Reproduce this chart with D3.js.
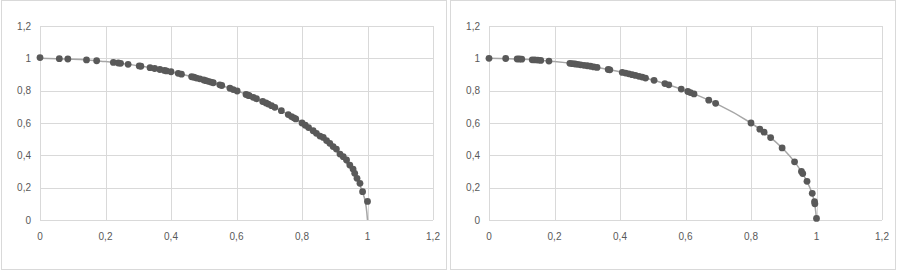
<!DOCTYPE html>
<html>
<head>
<meta charset="utf-8">
<script src="https://cdn.jsdelivr.net/npm/d3@7"></script>
<style>
  body { margin: 0; background: #fff; }
  svg { display: block; }
</style>
</head>
<body>
<div id="chart"></div>
<script>

// Tick values and their labels (comma decimals, as in the original)
const tickValues = [ 0, 0.2, 0.4, 0.6, 0.8, 1, 1.2 ];
const tickLabels = [ '0', '0,2', '0,4', '0,6', '0,8', '1', '1,2' ];

// Reference curve
const curveX = [ 0, 0.1, 0.2, 0.3, 0.4, 0.5, 0.6, 0.7, 0.8, 0.85, 0.9, 0.94, 0.97, 0.99, 1 ];
const curveY = [ 1, 0.995, 0.98, 0.954, 0.917, 0.866, 0.8, 0.714, 0.6, 0.527, 0.436, 0.341, 0.243, 0.141, 0 ];

// Left chart points
const leftX = [ 0, 0.059, 0.085, 0.142, 0.173, 0.224, 0.239, 0.246, 0.269, 0.303, 0.308, 0.336, 0.35, 0.366, 0.38, 0.386,
  0.40, 0.422, 0.432, 0.463, 0.47, 0.478, 0.488, 0.5, 0.507, 0.514, 0.522, 0.529, 0.549, 0.555, 0.58, 0.59, 0.602,
  0.629, 0.635, 0.639, 0.651, 0.661, 0.68, 0.69, 0.697, 0.707, 0.717, 0.737, 0.758, 0.768, 0.775, 0.781,
  0.8, 0.81, 0.82, 0.834, 0.844, 0.855, 0.865, 0.875, 0.885, 0.895, 0.905, 0.916, 0.926, 0.936, 0.946,
  0.956, 0.961, 0.968, 0.977, 0.985, 1.0 ];
const leftY = [ 1.005, 0.998, 0.996, 0.99, 0.985, 0.975, 0.971, 0.969, 0.963, 0.953, 0.951, 0.942, 0.937, 0.931, 0.925, 0.922,
  0.917, 0.907, 0.902, 0.886, 0.883, 0.878, 0.873, 0.866, 0.862, 0.858, 0.853, 0.849, 0.836, 0.832, 0.815, 0.807, 0.798,
  0.777, 0.772, 0.769, 0.759, 0.75, 0.733, 0.724, 0.717, 0.707, 0.697, 0.676, 0.652, 0.64, 0.632, 0.625,
  0.6, 0.586, 0.572, 0.552, 0.536, 0.519, 0.511, 0.491, 0.474, 0.454, 0.439, 0.408, 0.392, 0.371, 0.34,
  0.315, 0.289, 0.258, 0.227, 0.175, 0.115 ];

// Right chart points
const rightX = [ 0, 0.051, 0.086, 0.093, 0.1, 0.132, 0.14, 0.149, 0.158, 0.183, 0.247, 0.255, 0.263, 0.271, 0.28, 0.29,
  0.3, 0.31, 0.32, 0.33, 0.364, 0.369, 0.407, 0.417, 0.427, 0.437, 0.447, 0.458, 0.468, 0.478, 0.504, 0.537,
  0.549, 0.587, 0.607, 0.615, 0.626, 0.671, 0.692, 0.8, 0.827, 0.84, 0.86, 0.895, 0.933, 0.954, 0.958, 0.971,
  0.987, 0.994, 0.995, 1.0 ];
const rightY = [ 1, 0.999, 0.996, 0.996, 0.995, 0.991, 0.99, 0.989, 0.987, 0.983, 0.969, 0.967, 0.965, 0.963, 0.96, 0.957,
  0.954, 0.951, 0.947, 0.944, 0.931, 0.929, 0.913, 0.909, 0.904, 0.899, 0.894, 0.889, 0.884, 0.878, 0.864, 0.844,
  0.836, 0.81, 0.795, 0.788, 0.78, 0.741, 0.722, 0.6, 0.562, 0.543, 0.51, 0.446, 0.36, 0.3, 0.287, 0.239,
  0.165, 0.113, 0.1, 0.01 ];

const figure_width = 898;
const figure_height = 272;
const panel_width = 448;
const gridColor = '#d9d9d9';
const labelStyle = 'font-size:10px; font-family:"Liberation Sans", Arial, sans-serif; fill:#595959;';

const svg = d3.select( 'div#chart' )
  .append( 'svg' )
    .attr( 'width', figure_width )
    .attr( 'height', figure_height );

// Same scales for both panels (panel local coordinates)
const x = d3.scaleLinear().domain( [ 0, 1.2 ] ).range( [ 40, 433 ] );
const y = d3.scaleLinear().domain( [ 0, 1.2 ] ).range( [ 220, 26 ] );

function drawPanel( offset, px, py ) {
  const g = svg.append( 'g' )
    .attr( 'transform', 'translate(' + offset + ',0)' );

  // panel frame
  g.append( 'rect' )
    .attr( 'x', 1.5 )
    .attr( 'y', 0.5 )
    .attr( 'width', panel_width - 3 )
    .attr( 'height', figure_height - 3 )
    .attr( 'fill', '#fff' )
    .attr( 'stroke', gridColor );

  // gridlines
  g.append( 'g' ).selectAll( 'line' )
    .data( tickValues )
    .enter().append( 'line' )
      .attr( 'x1', x( 0 ) ).attr( 'x2', x( 1.2 ) )
      .attr( 'y1', function( d ) { return Math.round( y( d ) ) + 0.5; } )
      .attr( 'y2', function( d ) { return Math.round( y( d ) ) + 0.5; } )
      .attr( 'stroke', gridColor );
  g.append( 'g' ).selectAll( 'line' )
    .data( tickValues )
    .enter().append( 'line' )
      .attr( 'y1', y( 0 ) ).attr( 'y2', y( 1.2 ) )
      .attr( 'x1', function( d ) { return Math.round( x( d ) ) + 0.5; } )
      .attr( 'x2', function( d ) { return Math.round( x( d ) ) + 0.5; } )
      .attr( 'stroke', gridColor );

  // tick labels
  g.append( 'g' ).selectAll( 'text' )
    .data( tickValues )
    .enter().append( 'text' )
      .attr( 'x', 31 )
      .attr( 'y', function( d ) { return y( d ) + 3.5; } )
      .attr( 'text-anchor', 'end' )
      .attr( 'style', labelStyle )
      .text( function( d, i ) { return tickLabels[ i ]; } );
  g.append( 'g' ).selectAll( 'text' )
    .data( tickValues )
    .enter().append( 'text' )
      .attr( 'x', function( d ) { return x( d ); } )
      .attr( 'y', 240 )
      .attr( 'text-anchor', 'middle' )
      .attr( 'style', labelStyle )
      .text( function( d, i ) { return tickLabels[ i ]; } );

  // grey reference curve
  const line = d3.line()
    .x( function( d, i ) { return x( curveX[ i ] ); } )
    .y( function( d, i ) { return y( curveY[ i ] ); } )
    .curve( d3.curveMonotoneY );
  g.append( 'path' )
    .datum( curveX )
    .attr( 'd', line )
    .attr( 'fill', 'none' )
    .attr( 'stroke', '#a6a6a6' )
    .attr( 'stroke-width', 1.5 );

  // dots
  g.append( 'g' ).selectAll( 'circle' )
    .data( px )
    .enter().append( 'circle' )
      .attr( 'cx', function( d ) { return x( d ); } )
      .attr( 'cy', function( d, i ) { return y( py[ i ] ); } )
      .attr( 'r', 3.4 )
      .attr( 'fill', '#595959' );
}

drawPanel( 0, leftX, leftY );
drawPanel( 449, rightX, rightY );

</script>
</body>
</html>
